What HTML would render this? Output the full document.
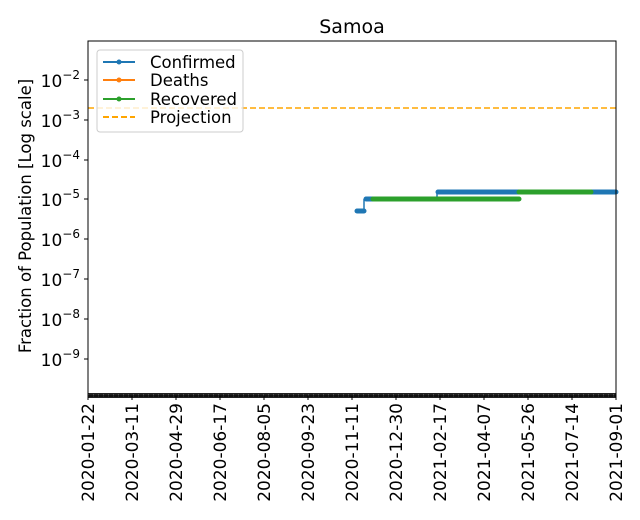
<!DOCTYPE html>
<html><head><style>body{margin:0;background:#fff}svg{display:block}text{font-family:"DejaVu Sans","Liberation Sans",sans-serif;fill:#000}</style></head>
<body>
<svg width="640" height="520" xmlns="http://www.w3.org/2000/svg">
<text x="352" y="33" font-size="19" text-anchor="middle">Samoa</text>
<line x1="88" y1="108" x2="616" y2="108" stroke="#ffa500" stroke-width="1.6" stroke-dasharray="6,3"/>
<g stroke="#1f77b4" stroke-width="5" stroke-linecap="round" fill="none">
<polyline points="357,211 364,211"/>
<polyline points="366,199 437,199"/>
<polyline points="438,192 616,192"/>
</g>
<line x1="364" y1="211" x2="364" y2="199" stroke="#1f77b4" stroke-width="1.5"/>
<line x1="437" y1="199" x2="437" y2="192" stroke="#1f77b4" stroke-width="1.5"/>
<g stroke="#2ca02c" stroke-width="5" stroke-linecap="round" fill="none">
<polyline points="373,199 519,199"/>
<polyline points="519,192 591,192"/>
</g>
<rect x="88" y="393" width="528" height="5" fill="#222"/>
<line x1="88" y1="395.5" x2="616" y2="395.5" stroke="#555" stroke-width="3" stroke-dasharray="1,4"/>
<rect x="88" y="41" width="528" height="355" fill="none" stroke="#000" stroke-width="1"/>
<g stroke="#000" stroke-width="1">
<line x1="84" y1="80" x2="88" y2="80"/><line x1="84" y1="120" x2="88" y2="120"/>
<line x1="84" y1="160" x2="88" y2="160"/><line x1="84" y1="199" x2="88" y2="199"/>
<line x1="84" y1="239" x2="88" y2="239"/><line x1="84" y1="279" x2="88" y2="279"/>
<line x1="84" y1="319" x2="88" y2="319"/><line x1="84" y1="359" x2="88" y2="359"/>
<line x1="88" y1="396" x2="88" y2="400"/><line x1="132" y1="396" x2="132" y2="400"/>
<line x1="176" y1="396" x2="176" y2="400"/><line x1="220" y1="396" x2="220" y2="400"/>
<line x1="264" y1="396" x2="264" y2="400"/><line x1="308" y1="396" x2="308" y2="400"/>
<line x1="352" y1="396" x2="352" y2="400"/><line x1="396" y1="396" x2="396" y2="400"/>
<line x1="440" y1="396" x2="440" y2="400"/><line x1="484" y1="396" x2="484" y2="400"/>
<line x1="528" y1="396" x2="528" y2="400"/><line x1="572" y1="396" x2="572" y2="400"/>
<line x1="616" y1="396" x2="616" y2="400"/>
</g>
<g font-size="17" text-anchor="end">
<text x="80" y="87">10<tspan font-size="12" dy="-8">−2</tspan></text>
<text x="80" y="127">10<tspan font-size="12" dy="-8">−3</tspan></text>
<text x="80" y="167">10<tspan font-size="12" dy="-8">−4</tspan></text>
<text x="80" y="206">10<tspan font-size="12" dy="-8">−5</tspan></text>
<text x="80" y="246">10<tspan font-size="12" dy="-8">−6</tspan></text>
<text x="80" y="286">10<tspan font-size="12" dy="-8">−7</tspan></text>
<text x="80" y="326">10<tspan font-size="12" dy="-8">−8</tspan></text>
<text x="80" y="366">10<tspan font-size="12" dy="-8">−9</tspan></text>
</g>
<text transform="translate(31,216) rotate(-90)" font-size="16.5" text-anchor="middle">Fraction of Population [Log scale]</text>
<g font-size="17" text-anchor="end">
<text transform="translate(94,403) rotate(-90)">2020-01-22</text>
<text transform="translate(138,403) rotate(-90)">2020-03-11</text>
<text transform="translate(182,403) rotate(-90)">2020-04-29</text>
<text transform="translate(226,403) rotate(-90)">2020-06-17</text>
<text transform="translate(270,403) rotate(-90)">2020-08-05</text>
<text transform="translate(314,403) rotate(-90)">2020-09-23</text>
<text transform="translate(358,403) rotate(-90)">2020-11-11</text>
<text transform="translate(402,403) rotate(-90)">2020-12-30</text>
<text transform="translate(446,403) rotate(-90)">2021-02-17</text>
<text transform="translate(490,403) rotate(-90)">2021-04-07</text>
<text transform="translate(534,403) rotate(-90)">2021-05-26</text>
<text transform="translate(578,403) rotate(-90)">2021-07-14</text>
<text transform="translate(622,403) rotate(-90)">2021-09-01</text>
</g>
<rect x="97" y="50" width="146" height="82" rx="3" fill="#fff" fill-opacity="0.8" stroke="#ccc"/>
<g stroke-width="2">
<line x1="103" y1="62" x2="135" y2="62" stroke="#1f77b4"/><circle cx="119" cy="62" r="2.5" fill="#1f77b4"/>
<line x1="103" y1="80" x2="135" y2="80" stroke="#ff7f0e"/><circle cx="119" cy="80" r="2.5" fill="#ff7f0e"/>
<line x1="103" y1="99" x2="135" y2="99" stroke="#2ca02c"/><circle cx="119" cy="99" r="2.5" fill="#2ca02c"/>
<line x1="103" y1="117" x2="135" y2="117" stroke="#ffa500" stroke-dasharray="6,3"/>
</g>
<g font-size="16.5">
<text x="150" y="68">Confirmed</text>
<text x="150" y="86">Deaths</text>
<text x="150" y="105">Recovered</text>
<text x="150" y="123">Projection</text>
</g>
</svg>
</body></html>
